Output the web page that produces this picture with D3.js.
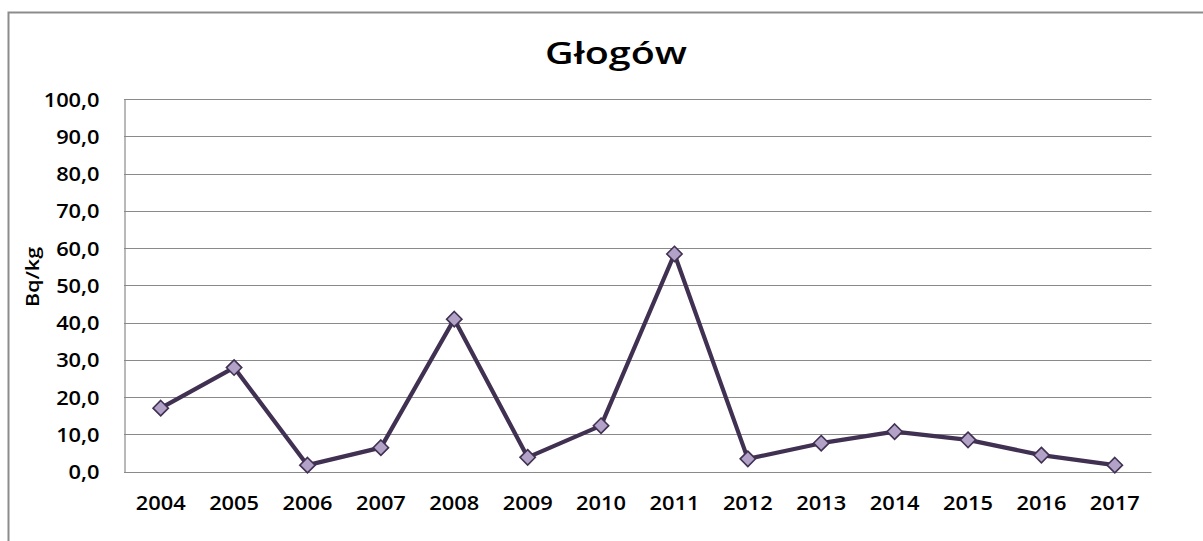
<!DOCTYPE html>
<html>
<head>
<meta charset="utf-8">
<script src="https://cdn.jsdelivr.net/npm/d3@7"></script>
<style>
  html, body { margin: 0; padding: 0; background: #fff; }
  svg { display: block; }
  text { font-family: "Open Sans", Lato, "Liberation Sans", sans-serif; font-weight: 600; fill: #000; }
</style>
</head>
<body>
<svg id="chart" width="1203" height="541"></svg>
<script>
const years = ["2004","2005","2006","2007","2008","2009","2010","2011","2012","2013","2014","2015","2016","2017"];
const values = [17.0, 27.9, 1.7, 6.4, 40.9, 3.8, 12.3, 58.4, 3.4, 7.6, 10.7, 8.5, 4.4, 1.7];
const yTicks = [0, 10, 20, 30, 40, 50, 60, 70, 80, 90, 100];
const chartTitle = "Głogów";
const yTitle = "Bq/kg";

const svg = d3.select("#chart");
const plot = { left: 124, right: 1151.5, top: 99, bottom: 471.5 };
const stretch = 1.12; // horizontal widening of the label glyphs

// outer chart frame (extends past the visible area on right and bottom)
svg.append("rect")
  .attr("x", 8.5).attr("y", 12.5)
  .attr("width", 1250).attr("height", 600)
  .attr("fill", "none").attr("stroke", "#8c8c8c").attr("stroke-width", 2);

const x = d3.scaleBand().domain(years).range([plot.left, plot.right]);
const y = d3.scaleLinear().domain([0, 100]).range([plot.bottom, plot.top]);

// horizontal gridlines
svg.append("g")
  .selectAll("line")
  .data(yTicks)
  .join("line")
  .attr("x1", plot.left).attr("x2", plot.right)
  .attr("y1", d => Math.round(y(d)) + 0.5).attr("y2", d => Math.round(y(d)) + 0.5)
  .attr("stroke", "#8a8a8a").attr("stroke-width", 1.2);

// y axis
const yPad = 25;
const yAxis = d3.axisLeft(y)
  .tickValues(yTicks)
  .tickSize(0)
  .tickFormat(d => d3.format(".1f")(d).replace(".", ","));
const gy = svg.append("g").attr("transform", `translate(${plot.left + 0.5},0)`).call(yAxis);
gy.select(".domain").attr("stroke", "#8a8a8a").attr("stroke-width", 1.2);
gy.selectAll("text")
  .style("font-size", "19.5px")
  .attr("x", -yPad / stretch)
  .attr("dy", "0.36em")
  .attr("transform", `scale(${stretch},1)`);

// x axis
const xAxis = d3.axisBottom(x).tickSize(0).tickPadding(25);
const gx = svg.append("g").attr("transform", `translate(0,${plot.bottom})`).call(xAxis);
gx.select(".domain").remove();
gx.selectAll("text")
  .style("font-size", "19.5px")
  .attr("transform", `scale(${stretch},1)`);

// title
svg.append("text")
  .attr("x", 616).attr("y", 64)
  .attr("text-anchor", "middle")
  .attr("textLength", 142)
  .attr("lengthAdjust", "spacingAndGlyphs")
  .style("font-size", "31.5px")
  .text(chartTitle);

// y axis title
svg.append("text")
  .attr("transform", `translate(39,277) rotate(-90)`)
  .attr("text-anchor", "middle")
  .attr("textLength", 60)
  .attr("lengthAdjust", "spacingAndGlyphs")
  .style("font-size", "17.5px")
  .text(yTitle);

// series line
const pts = years.map((yr, i) => [x(yr) + x.bandwidth() / 2, y(values[i])]);
svg.append("path")
  .datum(pts)
  .attr("d", d3.line())
  .attr("fill", "none")
  .attr("stroke", "#403152")
  .attr("stroke-width", 4.2)
  .attr("stroke-linejoin", "round");

// diamond markers
const diamond = d3.symbol().type(d3.symbolDiamond2).size(150);
svg.append("g")
  .selectAll("path")
  .data(pts)
  .join("path")
  .attr("transform", d => `translate(${d[0]},${d[1]})`)
  .attr("d", diamond)
  .attr("fill", "#b3a2c7")
  .attr("stroke", "#403152")
  .attr("stroke-width", 1.6);
</script>
</body>
</html>
